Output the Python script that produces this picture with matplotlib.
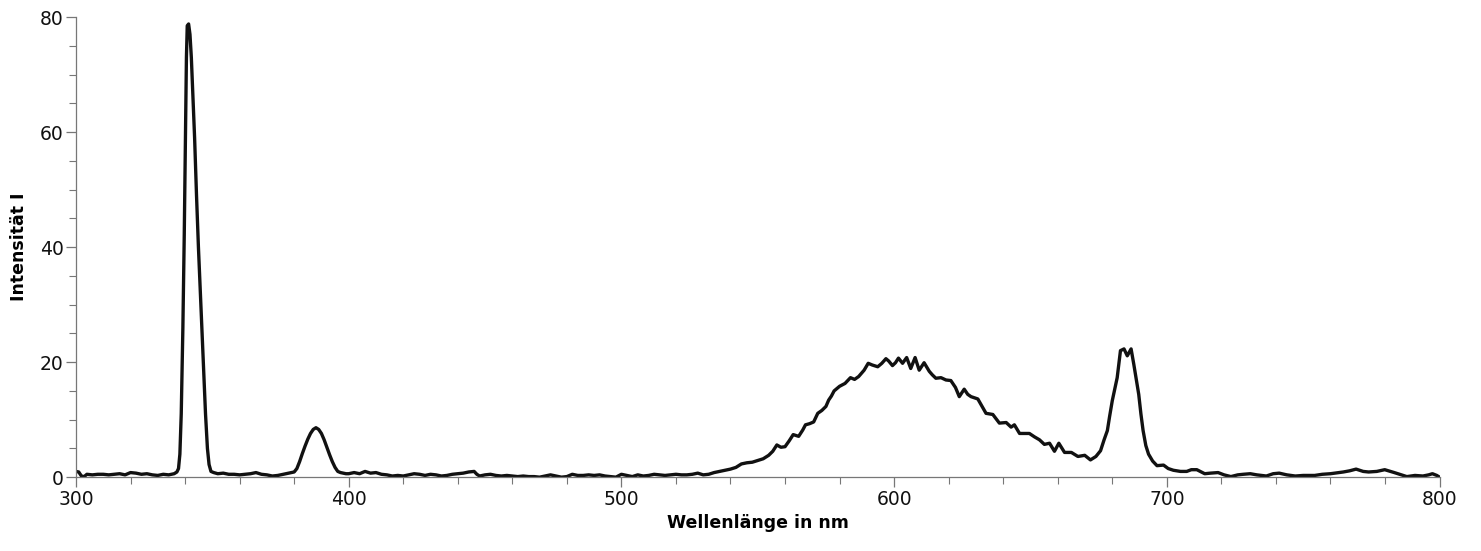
import numpy as np
import matplotlib.pyplot as plt
from matplotlib.ticker import MultipleLocator

# spectrum (wavelength in nm, intensity)
wl = [300, 301, 302, 303, 304, 306, 308, 310, 312, 314, 316, 318, 320, 322, 324, 326, 328, 330, 332, 334, 336, 337,
      337.6, 338.1, 338.6, 339.2, 339.7, 340.1, 340.5, 340.8, 341.3, 341.8, 342.3, 342.8, 343.5, 344.2, 344.9, 345.8,
      346.7, 347.5, 348.2, 348.8, 349.5, 350.5, 352, 354, 356, 358, 360, 362, 364, 366, 368, 370, 372, 374, 376, 378,
      380, 381, 382, 383, 384, 385, 386, 387, 388, 389, 390, 391, 392, 393, 394, 395, 396, 397, 399, 400, 402, 404,
      406, 408, 410, 412, 414, 416, 418, 420, 422, 424, 426, 428, 430, 432, 434, 436, 438, 440, 442, 444, 446, 447,
      448, 450, 452, 454, 456, 458, 460, 462, 464, 466, 468, 470, 472, 474, 476, 478, 480, 482, 484, 486, 488, 490,
      492, 494, 496, 498, 500, 502, 504, 506, 508, 510, 512, 514, 516, 518, 520, 522, 524, 526, 528, 530, 532, 534,
      536, 538, 540, 542, 544, 546, 548, 550, 552, 554, 555.5, 557, 558.5, 560, 561.5, 563, 565, 566.5, 567.5, 569,
      570.5, 572, 573.5, 575, 576, 577, 578, 580, 582, 584, 585.5, 587, 589, 590.5, 592, 594, 595.5, 597, 598, 599.4,
      600.5, 601.6, 603.1, 604.6, 606.1, 607.7, 609.2, 611, 612.9, 614, 615.3, 617.2, 619, 620.8, 622.5, 623.9,
      625.7, 627, 628.2, 630.7, 632, 633.7, 636.2, 638.6, 641.1, 642.9, 644.1, 646, 649.6, 651.5, 653.3, 655.1, 657,
      658.8, 660.4, 662.5, 665, 667.4, 669.9, 672, 674, 675.7, 677, 678.2, 679, 680, 681, 681.8, 682.5, 683, 684.3,
      685.5, 686.9, 687.9, 688.8, 689.7, 690.5, 691.3, 692.3, 693.3, 694.8, 696.4, 698.8, 700.5, 702.4, 705, 707.3,
      709, 711, 713.9, 716, 718.8, 721, 723.5, 726, 728, 730.6, 733, 736.5, 739, 741.2, 744, 747.1, 750, 754.2, 757,
      760, 764.7, 767, 769.4, 772, 774, 777, 779.9, 783.4, 786, 788, 791, 793.9, 796, 797.4, 799, 800]
intensity = [1.0, 0.9, 0.2, 0.1, 0.5, 0.4, 0.5, 0.5, 0.4, 0.5, 0.6, 0.4, 0.8, 0.7, 0.5, 0.6, 0.4, 0.3, 0.5, 0.4, 0.6,
             0.9, 1.5, 4, 11, 26, 42, 58, 73, 78.5, 78.8, 77, 73, 67, 59, 49, 40, 30, 20, 11, 5, 2.2, 1.0, 0.8, 0.6,
             0.7, 0.5, 0.5, 0.4, 0.5, 0.6, 0.8, 0.5, 0.4, 0.2, 0.3, 0.5, 0.7, 0.9, 1.5, 2.7, 4.1, 5.4, 6.6, 7.6, 8.3,
             8.6, 8.3, 7.6, 6.5, 5.2, 3.9, 2.7, 1.7, 1.0, 0.8, 0.6, 0.6, 0.8, 0.6, 1.0, 0.7, 0.8, 0.5, 0.4, 0.2, 0.3,
             0.2, 0.4, 0.6, 0.5, 0.3, 0.5, 0.4, 0.2, 0.3, 0.5, 0.6, 0.7, 0.9, 1.0, 0.5, 0.2, 0.4, 0.5, 0.3, 0.2, 0.3,
             0.2, 0.1, 0.2, 0.1, 0.1, 0.0, 0.2, 0.4, 0.2, 0.0, 0.1, 0.5, 0.3, 0.3, 0.4, 0.3, 0.4, 0.2, 0.1, 0.0, 0.5,
             0.3, 0.1, 0.4, 0.2, 0.3, 0.5, 0.4, 0.3, 0.4, 0.5, 0.4, 0.4, 0.5, 0.7, 0.4, 0.5, 0.8, 1.0, 1.2, 1.4, 1.7,
             2.3, 2.5, 2.6, 2.9, 3.2, 3.8, 4.5, 5.6, 5.2, 5.3, 6.3, 7.4, 7.1, 8.2, 9.1, 9.3, 9.6, 11.1, 11.6, 12.3,
             13.4, 14.1, 15.0, 15.8, 16.3, 17.3, 17.0, 17.5, 18.6, 19.8, 19.5, 19.2, 19.8, 20.6, 20.2, 19.4, 19.9,
             20.7, 19.8, 20.8, 18.9, 20.8, 18.6, 19.9, 18.4, 17.8, 17.2, 17.3, 16.9, 16.8, 15.6, 14.0, 15.3, 14.4,
             14.0, 13.6, 12.5, 11.1, 10.9, 9.4, 9.5, 8.7, 9.1, 7.6, 7.6, 7.0, 6.5, 5.7, 5.9, 4.5, 5.9, 4.3, 4.3, 3.6,
             3.8, 3.0, 3.6, 4.6, 6.5, 8.1, 10.5, 13.3, 15.5, 17.3, 20, 22.0, 22.3, 21.1, 22.3, 19.6, 17, 14.4, 11, 8.1,
             5.5, 4.0, 2.8, 2.0, 2.1, 1.5, 1.2, 1.0, 1.0, 1.3, 1.3, 0.6, 0.7, 0.8, 0.4, 0.1, 0.4, 0.5, 0.6, 0.4, 0.2,
             0.6, 0.7, 0.4, 0.2, 0.3, 0.3, 0.5, 0.6, 0.9, 1.1, 1.4, 1.0, 0.9, 1.0, 1.3, 0.8, 0.4, 0.1, 0.3, 0.2, 0.4,
             0.6, 0.3, 0.0]

fig = plt.figure(figsize=(14.81, 5.51), dpi=100)
ax = fig.add_axes([0.0513, 0.134, 0.9207, 0.835])

ax.plot(wl, intensity, color='#111111', lw=2.4, solid_joinstyle='round')

ax.set_xlim(300, 800)
ax.set_ylim(0, 80)
ax.xaxis.set_major_locator(MultipleLocator(100))
ax.xaxis.set_minor_locator(MultipleLocator(20))
ax.yaxis.set_major_locator(MultipleLocator(20))
ax.yaxis.set_minor_locator(MultipleLocator(5))

for s in ['top', 'right']:
    ax.spines[s].set_visible(False)
for s in ['left', 'bottom']:
    ax.spines[s].set_color('#777777')
    ax.spines[s].set_linewidth(0.9)

ax.tick_params(which='major', length=7, width=0.9, color='#777777', labelsize=13.5, labelcolor='#111111', pad=2)
ax.tick_params(which='minor', length=5, width=0.8, color='#777777')

ax.set_xlabel('Wellenlänge in nm', fontsize=12.5, fontweight='bold', labelpad=4)
ax.set_ylabel('Intensität I', fontsize=12.5, fontweight='bold', labelpad=8)

fig.savefig('out.png', dpi=100)
